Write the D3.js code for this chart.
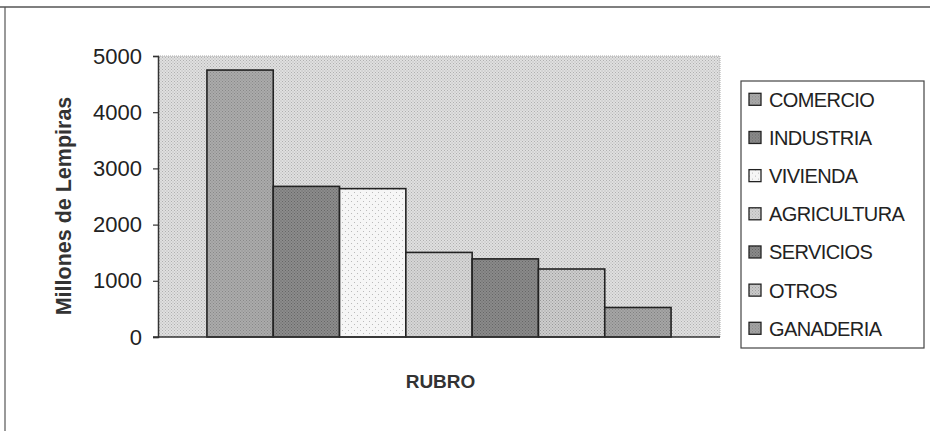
<!DOCTYPE html>
<html><head><meta charset="utf-8">
<script src="https://cdn.jsdelivr.net/npm/d3@7"></script>
<style>body{margin:0;background:#fff}svg{display:block}</style>
</head><body><div id="c"></div>
<script>
const series = ["COMERCIO","INDUSTRIA","VIVIENDA","AGRICULTURA","SERVICIOS","OTROS","GANADERIA"];
const values = [4750, 2680, 2640, 1505, 1390, 1210, 525];
const yTicks = [0,1000,2000,3000,4000,5000];
const fills = ["#ababab","#8c8c8c","#f6f6f6","#d6d6d6","#8a8a8a","#cdcdcd","#a6a6a6"];
const dots  = ["#888","#666","#bbb","#aaa","#666","#999","#808080"];
const yTitle = "Millones de Lempiras";
const xTitle = "RUBRO";

const W=930,H=431;
const svg=d3.select("#c").append("svg").attr("width",W).attr("height",H)
  .style("font-family","'Liberation Sans', Arial, sans-serif");
const defs=svg.append("defs");

function pat(id,base,dot,size){
  const p=defs.append("pattern").attr("id",id).attr("patternUnits","userSpaceOnUse")
    .attr("width",size).attr("height",size);
  p.append("rect").attr("width",size).attr("height",size).attr("fill",base);
  p.append("rect").attr("x",0).attr("y",0).attr("width",1).attr("height",1).attr("fill",dot);
  p.append("rect").attr("x",size/2).attr("y",size/2).attr("width",1).attr("height",1).attr("fill",dot);
}
pat("bg","#e0e0e0","#b0b0b0",3);
series.forEach((s,i)=>pat("p"+i,fills[i],dots[i],i===2?6:3));

svg.append("line").attr("x1",0).attr("x2",W).attr("y1",7).attr("y2",7).attr("stroke","#555").attr("stroke-width",1.5);
svg.append("line").attr("x1",5).attr("x2",5).attr("y1",7).attr("y2",H).attr("stroke","#555").attr("stroke-width",1.2);

const pl=158,pr=720,pt=56,pb=337;
const y=d3.scaleLinear().domain([0,5000]).range([pb,pt]);
const x=d3.scaleBand().domain(series).range([pl,pr]).paddingInner(0).paddingOuter(0.738);

svg.append("rect").attr("x",pl).attr("y",pt).attr("width",pr-pl).attr("height",pb-pt)
  .attr("fill","url(#bg)");
svg.append("path").attr("d",`M${pl},${pt}H${pr}V${pb}`).attr("fill","none")
  .attr("stroke","#aaa").attr("stroke-width",1).attr("stroke-dasharray","1,1");

svg.append("g").selectAll("rect").data(series).join("rect")
  .attr("x",d=>x(d)).attr("width",x.bandwidth())
  .attr("y",(d,i)=>y(values[i])).attr("height",(d,i)=>y(0)-y(values[i]))
  .attr("fill",(d,i)=>`url(#p${i})`).attr("stroke","#222").attr("stroke-width",1.6);

const ya=svg.append("g").attr("transform",`translate(${pl},0)`)
  .call(d3.axisLeft(y).tickValues(yTicks).tickSize(5).tickPadding(11).tickFormat(d3.format("d")));
ya.select(".domain").attr("stroke","#333").attr("stroke-width",1.5);
ya.selectAll(".tick line").attr("stroke","#333").attr("stroke-width",1.2);
ya.selectAll(".tick text").attr("font-size",22).attr("fill","#222").attr("font-family","'Liberation Sans', Arial, sans-serif");
svg.append("line").attr("x1",pl-5).attr("x2",pr).attr("y1",pb).attr("y2",pb).attr("stroke","#333").attr("stroke-width",1.5);

svg.append("text").attr("transform",`translate(71,206) rotate(-90)`).attr("text-anchor","middle")
  .attr("font-size",21.5).attr("font-weight","bold").attr("fill","#333").text(yTitle);
svg.append("text").attr("x",440.5).attr("y",388).attr("text-anchor","middle")
  .attr("font-size",19).attr("font-weight","bold").attr("fill","#333").text(xTitle);

const lg=svg.append("g");
lg.append("rect").attr("x",741).attr("y",81).attr("width",183).attr("height",267)
  .attr("fill","#fff").attr("stroke","#444").attr("stroke-width",1.2);
const ly=d3.scalePoint().domain(series).range([99.3,328.3]);
const li=lg.selectAll("g").data(series).join("g").attr("transform",d=>`translate(749,${ly(d)})`);
li.append("rect").attr("x",0).attr("y",-6).attr("width",12).attr("height",12)
  .attr("fill",(d,i)=>`url(#p${i})`).attr("stroke","#222").attr("stroke-width",1.3);
li.append("text").attr("x",20).attr("y",7.5).attr("font-size",20).attr("letter-spacing","-0.6")
  .attr("fill","#222").text(d=>d);
</script></body></html>
